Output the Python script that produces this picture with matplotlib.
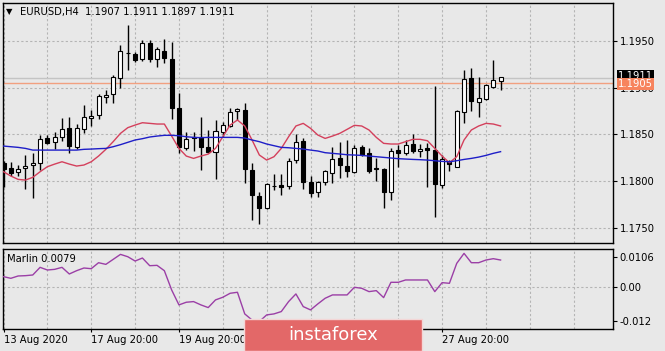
import numpy as np
import matplotlib
matplotlib.use("Agg")
import matplotlib.pyplot as plt
from matplotlib.patches import Rectangle

# EURUSD H4 candles, left to right
opens = [1.18188, 1.18134, 1.18091, 1.18134, 1.18166, 1.18195, 1.18455, 1.18416, 1.18473, 1.18570,
         1.18366, 1.18552, 1.18673, 1.18705, 1.18895, 1.18927, 1.19102, 1.19366, 1.19355, 1.19302,
         1.19473, 1.19302, 1.19395, 1.19302, 1.18777, 1.18355, 1.18466, 1.18473, 1.18366, 1.18313,
         1.18527, 1.18588, 1.18752, 1.18759, 1.18116, 1.17838, 1.17712, 1.17941, 1.17955, 1.17948,
         1.18223, 1.18430, 1.17984, 1.17884, 1.17991, 1.18088, 1.18248, 1.18159, 1.18098, 1.18366,
         1.18302, 1.18138, 1.18127, 1.17877, 1.18330, 1.18302, 1.18395, 1.18323, 1.18355, 1.18330,
         1.17955, 1.18205, 1.18152, 1.18734, 1.19098, 1.18848, 1.18877, 1.19009, 1.1907]
highs = [1.18216, 1.18205, 1.18170, 1.18277, 1.18295, 1.18491, 1.18491, 1.18527, 1.18670, 1.18688,
         1.18609, 1.18813, 1.18759, 1.18930, 1.18973, 1.19134, 1.19455, 1.19670, 1.19384, 1.19509,
         1.19509, 1.19438, 1.19516, 1.19491, 1.18938, 1.18527, 1.18527, 1.18688, 1.18545, 1.18652,
         1.18634, 1.18777, 1.18784, 1.18830, 1.18188, 1.17884, 1.17980, 1.18070, 1.18070, 1.18241,
         1.18502, 1.18455, 1.18052, 1.18002, 1.18116, 1.18359, 1.18413, 1.18438, 1.18384, 1.18384,
         1.18355, 1.18241, 1.18134, 1.18348, 1.18384, 1.18438, 1.18498, 1.18395, 1.18402, 1.19016,
         1.18277, 1.18223, 1.18759, 1.19188, 1.19205, 1.19109, 1.19038, 1.19295, 1.1911]
lows = [1.17938, 1.18052, 1.18052, 1.17909, 1.17813, 1.18116, 1.18395, 1.18338, 1.18430, 1.18295,
        1.18338, 1.18509, 1.18588, 1.18666, 1.18830, 1.18830, 1.18991, 1.19188, 1.19277, 1.19288,
        1.19277, 1.19216, 1.19259, 1.18659, 1.18295, 1.18330, 1.18320, 1.18116, 1.18295, 1.18016,
        1.18473, 1.18580, 1.18652, 1.17980, 1.17580, 1.17538, 1.17695, 1.17902, 1.17848, 1.17909,
        1.18188, 1.17909, 1.17830, 1.17830, 1.17955, 1.17973, 1.18027, 1.18038, 1.18088, 1.18266,
        1.18088, 1.17998, 1.17712, 1.17795, 1.18145, 1.18277, 1.18295, 1.18252, 1.17938, 1.17609,
        1.17920, 1.18105, 1.18145, 1.18616, 1.18752, 1.18680, 1.18866, 1.18991, 1.1897]
closes = [1.18123, 1.18088, 1.18123, 1.18159, 1.18195, 1.18448, 1.18409, 1.18470, 1.18555, 1.18373,
          1.18563, 1.18680, 1.18695, 1.18909, 1.18920, 1.19116, 1.19395, 1.19370, 1.19295, 1.19480,
          1.19302, 1.19409, 1.19313, 1.18777, 1.18366, 1.18448, 1.18459, 1.18366, 1.18313, 1.18538,
          1.18598, 1.18741, 1.18773, 1.18123, 1.17848, 1.17705, 1.17962, 1.17948, 1.17938, 1.18216,
          1.18420, 1.17991, 1.17873, 1.17991, 1.18105, 1.18230, 1.18170, 1.18109, 1.18355, 1.18277,
          1.18109, 1.18130, 1.17884, 1.18323, 1.18295, 1.18384, 1.18323, 1.18345, 1.18330, 1.17962,
          1.18230, 1.18177, 1.18748, 1.19091, 1.18859, 1.18884, 1.19027, 1.19080, 1.1911]

ma_red = [1.18098, 1.18052, 1.18016, 1.18009, 1.18038, 1.18098, 1.18152, 1.18180, 1.18205, 1.18180,
          1.18159, 1.18170, 1.18205, 1.18266, 1.18338, 1.18420, 1.18509, 1.18570, 1.18598, 1.18623,
          1.18616, 1.18609, 1.18609, 1.18480, 1.18348, 1.18266, 1.18241, 1.18266, 1.18287, 1.18348,
          1.18473, 1.18598, 1.18652, 1.18588, 1.18438, 1.18277, 1.18223, 1.18259, 1.18348, 1.18473,
          1.18588, 1.18616, 1.18563, 1.18491, 1.18455, 1.18480, 1.18509, 1.18552, 1.18595, 1.18588,
          1.18545, 1.18466, 1.18402, 1.18395, 1.18395, 1.18420, 1.18445, 1.18445, 1.18430, 1.18348,
          1.18266, 1.18195, 1.18259, 1.18438, 1.18545, 1.18588, 1.18616, 1.18609, 1.18588]
ma_blue = [1.18373, 1.18366, 1.18359, 1.18348, 1.18330, 1.18330, 1.18330, 1.18330, 1.18330, 1.18330,
           1.18330, 1.18338, 1.18341, 1.18345, 1.18348, 1.18366, 1.18388, 1.18413, 1.18438, 1.18452,
           1.18470, 1.18480, 1.18488, 1.18488, 1.18484, 1.18473, 1.18466, 1.18463, 1.18466, 1.18466,
           1.18466, 1.18466, 1.18466, 1.18459, 1.18438, 1.18420, 1.18395, 1.18377, 1.18359, 1.18355,
           1.18348, 1.18341, 1.18330, 1.18320, 1.18302, 1.18295, 1.18288, 1.18280, 1.18277, 1.18273,
           1.18266, 1.18259, 1.18252, 1.18245, 1.18238, 1.18234, 1.18230, 1.18227, 1.18223, 1.18216,
           1.18209, 1.18205, 1.18216, 1.18230, 1.18241, 1.18255, 1.18273, 1.18295, 1.18313]
marlin = [0.00373, 0.00315, 0.00397, 0.00408, 0.00432, 0.00700, 0.00607, 0.00630, 0.00700, 0.00467,
          0.00583, 0.00677, 0.00653, 0.00863, 0.00805, 0.00980, 0.01155, 0.01073, 0.00922, 0.01027,
          0.00758, 0.00770, 0.00583, -0.00093, -0.00618, -0.00525, -0.00502, -0.00618, -0.00712, -0.00443,
          -0.00350, -0.00210, -0.00175, -0.00934, -0.01150, -0.01200, -0.00969, -0.00934, -0.00852, -0.00502,
          -0.00233, -0.00677, -0.00794, -0.00583, -0.00385, -0.00268, -0.00268, -0.00268, 0.00000, -0.00035,
          -0.00152, -0.00117, -0.00362, 0.00175, 0.00175, 0.00257, 0.00257, 0.00257, 0.00257, -0.00152,
          0.00163, 0.00140, 0.00840, 0.01190, 0.00863, 0.00863, 0.00957, 0.01004, 0.00957]

date_ticks = [0, 12, 24, 60]
date_labels = ['13 Aug 2020', '17 Aug 20:00', '19 Aug 20:00', '27 Aug 20:00']
price_ticks = [1.1750, 1.1800, 1.1850, 1.1900, 1.1950]
marlin_ticks = [-0.012, 0.0, 0.0106]
marlin_labels = ['-0.012', '0.00', '0.0106']
hline_price = 1.1905
bid_price = 1.1910
last_text = '1.1911'

bg = '#e8e8e8'
grid_c = '#b4b4b4'
W, H = 665, 351
plt.rcParams['font.family'] = 'DejaVu Sans'
fs = 7.2

fig = plt.figure(figsize=(W / 100, H / 100), dpi=100, facecolor=bg)


def box(l, t, r, b):
    return [l / W, 1 - b / H, (r - l) / W, (b - t) / H]


ax = fig.add_axes(box(2.5, 3, 613.3, 243), facecolor=bg)
ax2 = fig.add_axes(box(2.5, 249, 613.3, 329), facecolor=bg, sharex=ax)

x = np.arange(len(opens))
o, h, l, c = map(np.array, (opens, highs, lows, closes))
up = c >= o

# candles
ax.vlines(x, l, h, color='black', lw=1, zorder=3)
ax.bar(x, np.abs(c - o), bottom=np.minimum(o, c), width=0.55,
       color=np.where(up, 'white', 'black'), edgecolor='black', linewidth=0.8, zorder=4)

ax.plot(x, ma_red, color='#d4405c', lw=1, zorder=5)
ax.plot(x, ma_blue, color='#1e1ec8', lw=1, zorder=5)
ax.axhline(bid_price, color='#c4c4c4', lw=1, zorder=2)
ax.axhline(hline_price, color='#f2a080', lw=1, zorder=2)

ax.set_xlim(-0.14, 83.42)
ax.set_ylim(1.17335, 1.19905)

ax.yaxis.tick_right()
ax.set_yticks(price_ticks)
ax.set_yticklabels([f'{v:.4f}' for v in price_ticks])
ax.grid(axis='y', color=grid_c, ls=(0, (2, 2)), lw=0.8)
ax.set_xticks(np.arange(0, 84, 6), minor=True)
ax.grid(axis='x', which='both', color=grid_c, ls=(0, (2, 2)), lw=0.8)
ax.tick_params(axis='x', which='both', bottom=False, labelbottom=False)
ax.tick_params(axis='y', length=3, width=0.8, pad=1.5, labelsize=fs, colors='black')

# price labels on the right (the orange one sits over the black one, as in MT4)
tr = ax.get_yaxis_transform()
ax.text(1 + 4.5 / 610.8, bid_price + 0.00025, last_text, transform=tr, clip_on=False,
        fontsize=fs, color='white', va='center', ha='left', zorder=6,
        bbox=dict(boxstyle='square,pad=0.08', fc='black', ec='none'))
ax.text(1 + 4.5 / 610.8, hline_price - 0.00015, f'{hline_price:.4f}', transform=tr, clip_on=False,
        fontsize=fs, color='white', va='center', ha='left', zorder=7,
        bbox=dict(boxstyle='square,pad=0.08', fc='#f7845e', ec='none'))

# indicator
ax2.plot(x, marlin, color='#9b3fa6', lw=1, zorder=3)
ax2.set_ylim(-0.01464, 0.01344)
ax2.yaxis.tick_right()
ax2.set_yticks(marlin_ticks)
ax2.set_yticklabels(marlin_labels)
ax2.axhline(0, color=grid_c, ls=(0, (2, 2)), lw=0.8, zorder=1)
ax2.set_xticks(date_ticks)
ax2.set_xticklabels(date_labels, ha='left')
ax2.grid(axis='x', which='both', color=grid_c, ls=(0, (2, 2)), lw=0.8)
ax2.tick_params(axis='x', which='major', length=2.5, width=0.8, pad=2, labelsize=fs)
ax2.tick_params(axis='x', which='minor', length=0)
ax2.tick_params(axis='y', length=3, width=0.8, pad=1.5, labelsize=fs)

for a in (ax, ax2):
    for s in a.spines.values():
        s.set_color('black')
        s.set_linewidth(1)

# texts
fig.text(9 / W, 1 - 12 / H, '\u25bc', fontsize=6, ha='center', va='center')
fig.text(20 / W, 1 - 12 / H, 'EURUSD,H4  1.1907 1.1911 1.1897 1.1911',
         fontsize=fs, ha='left', va='center')
fig.text(7 / W, 1 - 259 / H, 'Marlin 0.0079', fontsize=fs, ha='left', va='center')

# watermark
fig.add_artist(Rectangle((244 / W, 0), 178 / W, 32 / H, transform=fig.transFigure,
                         facecolor='#e36868', edgecolor='#f3d6d6', lw=1, zorder=10))
fig.text(333 / W, 1 - 335 / H, 'instaforex', fontsize=13, color='white',
         ha='center', va='center', zorder=11)

fig.savefig('out.png', dpi=100, facecolor=bg)
